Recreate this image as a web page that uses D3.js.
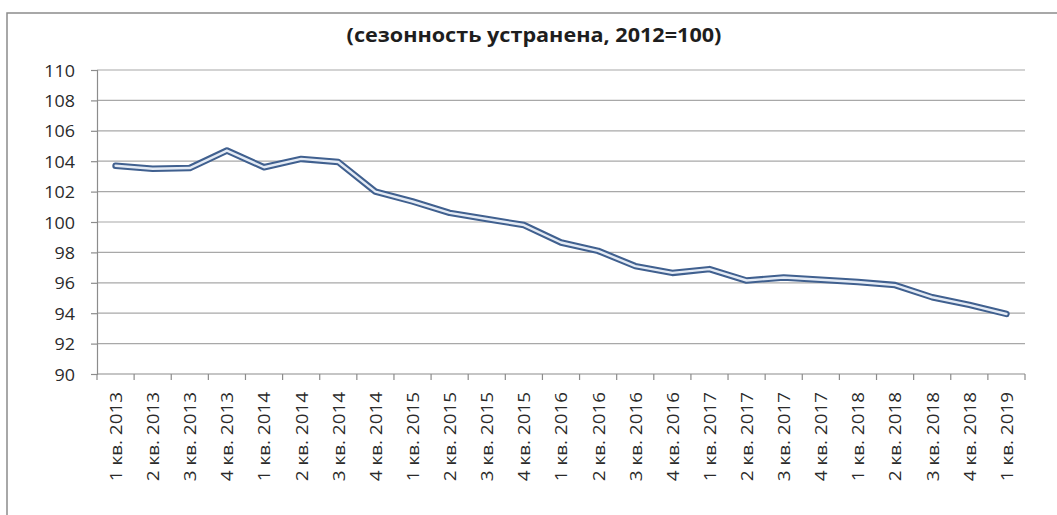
<!DOCTYPE html>
<html>
<head>
<meta charset="utf-8">
<script src="https://cdn.jsdelivr.net/npm/d3@7"></script>
<style>
  html, body { margin: 0; padding: 0; background: #fff; }
  svg { display: block; }
  text { font-family: "Open Sans", "Liberation Sans", sans-serif; }
</style>
</head>
<body>
<svg id="chart" width="1057" height="515"></svg>
<script>
const titleText = "(сезонность устранена, 2012=100)";
const categories = [
  "1 кв. 2013","2 кв. 2013","3 кв. 2013","4 кв. 2013",
  "1 кв. 2014","2 кв. 2014","3 кв. 2014","4 кв. 2014",
  "1 кв. 2015","2 кв. 2015","3 кв. 2015","4 кв. 2015",
  "1 кв. 2016","2 кв. 2016","3 кв. 2016","4 кв. 2016",
  "1 кв. 2017","2 кв. 2017","3 кв. 2017","4 кв. 2017",
  "1 кв. 2018","2 кв. 2018","3 кв. 2018","4 кв. 2018",
  "1 кв. 2019"
];
const values = [
  103.7, 103.5, 103.55, 104.7,
  103.6, 104.15, 103.95, 102.0,
  101.35, 100.6, 100.2, 99.8,
  98.65, 98.1, 97.1, 96.65,
  96.9, 96.15, 96.35, 96.2,
  96.05, 95.85, 95.05, 94.55,
  93.95
];
const yTicks = [90, 92, 94, 96, 98, 100, 102, 104, 106, 108, 110];

const svg = d3.select("#chart");
const W = 1057, H = 515;
const plot = { left: 97, right: 1025, top: 70, bottom: 374 };

// outer frame
svg.append("rect")
  .attr("x", 7).attr("y", 13)
  .attr("width", W + 20).attr("height", H + 20)
  .attr("fill", "#fff")
  .attr("stroke", "#8c8c8c").attr("stroke-width", 1.5);

const x = d3.scaleBand().domain(categories).range([plot.left, plot.right]).padding(0);
const y = d3.scaleLinear().domain([90, 110]).range([plot.bottom, plot.top]);

// gridlines
svg.append("g").selectAll("line")
  .data(yTicks.filter(v => v !== 90))
  .join("line")
  .attr("x1", plot.left).attr("x2", plot.right)
  .attr("y1", d => y(d)).attr("y2", d => y(d))
  .attr("stroke", "#a8a8a8").attr("stroke-width", 1.2);

// y axis
const yAxis = svg.append("g")
  .attr("transform", `translate(${plot.left},0)`)
  .call(d3.axisLeft(y).tickValues(yTicks).tickSize(6).tickPadding(0).tickFormat(d3.format("d")));
yAxis.select(".domain").attr("stroke", "#8c8c8c").attr("stroke-width", 1.2);
yAxis.selectAll(".tick line").attr("stroke", "#8c8c8c").attr("stroke-width", 1.2);
yAxis.selectAll(".tick text")
  .attr("x", null).attr("dy", null)
  .attr("font-size", 16)
  .attr("fill", "#2a2a2a")
  .attr("text-anchor", "end")
  .attr("dominant-baseline", "central")
  .attr("transform", "translate(-22,0) scale(1.12,1)");

// x axis line
svg.append("line")
  .attr("x1", plot.left).attr("x2", plot.right)
  .attr("y1", y(90)).attr("y2", y(90))
  .attr("stroke", "#8c8c8c").attr("stroke-width", 1.2);
// x tick marks at category boundaries
const bounds = categories.map(c => x(c)).concat([x(categories[categories.length - 1]) + x.bandwidth()]);
svg.append("g").selectAll("line")
  .data(bounds)
  .join("line")
  .attr("x1", d => d).attr("x2", d => d)
  .attr("y1", y(90)).attr("y2", y(90) + 6)
  .attr("stroke", "#8c8c8c").attr("stroke-width", 1.2);

// x labels
svg.append("g").selectAll("text")
  .data(categories)
  .join("text")
  .attr("transform", d => `translate(${x(d) + x.bandwidth() / 2},392) rotate(-90) scale(1.18,1)`)
  .attr("text-anchor", "end")
  .attr("dominant-baseline", "central")
  .attr("font-size", 16)
  .attr("fill", "#2a2a2a")
  .text(d => d);

// line series (double line look)
const line = d3.line()
  .x((d, i) => x(categories[i]) + x.bandwidth() / 2)
  .y(d => y(d));
svg.append("path")
  .datum(values)
  .attr("d", line)
  .attr("fill", "none")
  .attr("stroke", "#40608f")
  .attr("stroke-width", 6.5)
  .attr("stroke-linejoin", "round")
  .attr("stroke-linecap", "round");
svg.append("path")
  .datum(values)
  .attr("d", line)
  .attr("fill", "none")
  .attr("stroke", "#e4ebf5")
  .attr("stroke-width", 2.4)
  .attr("stroke-linejoin", "round")
  .attr("stroke-linecap", "round");

// title
const t = svg.append("text")
  .attr("x", 534).attr("y", 42)
  .attr("text-anchor", "middle")
  .attr("font-size", 20)
  .attr("font-weight", "bold")
  .attr("fill", "#1e1e1e")
  .text(titleText);
const tl = t.node().getComputedTextLength();
const s = 375 / tl;
t.attr("transform", `translate(${534 - 534 * s},0) scale(${s},1)`);
</script>
</body>
</html>
